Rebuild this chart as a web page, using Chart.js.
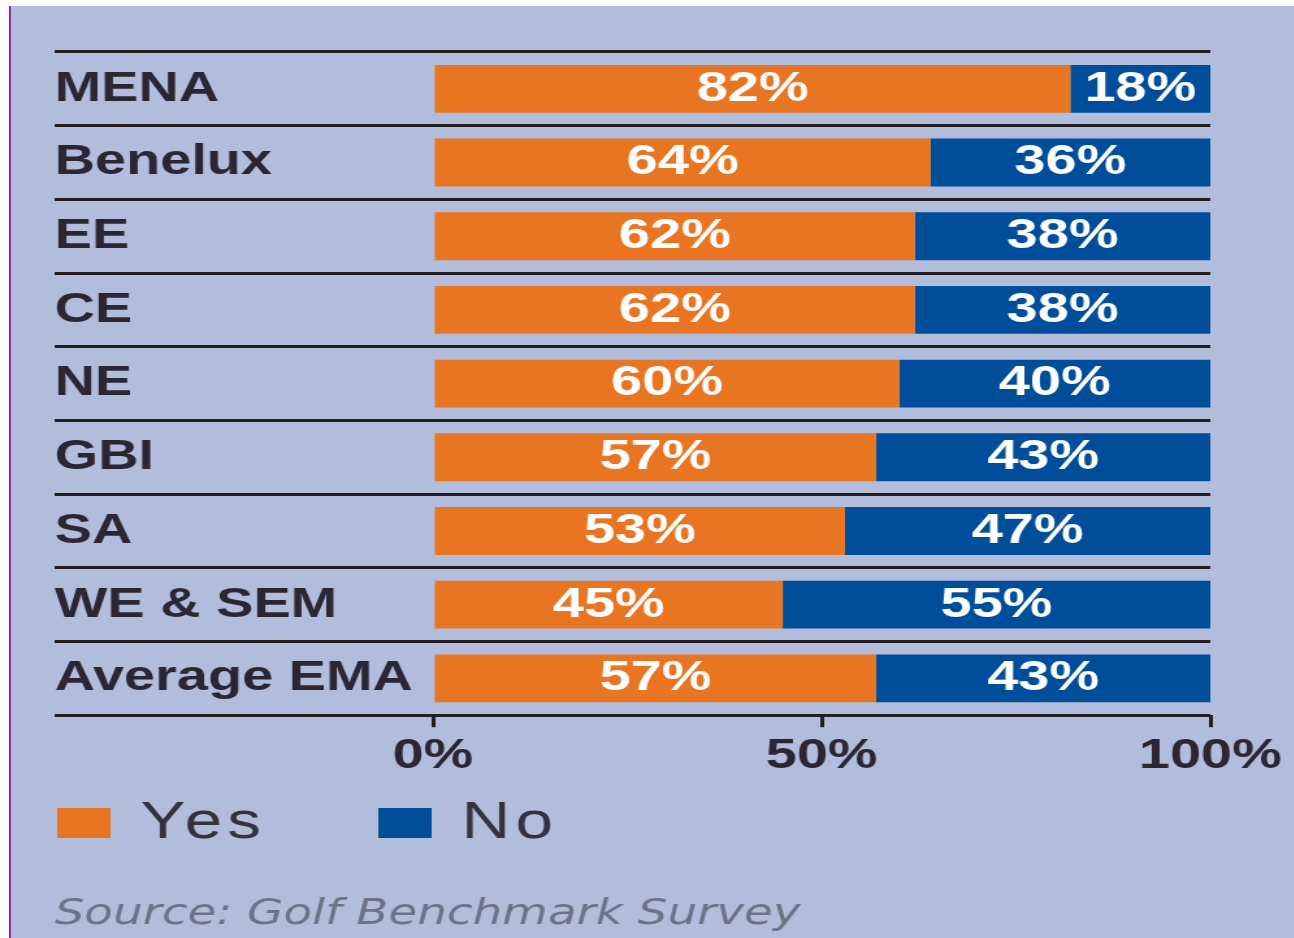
<!DOCTYPE html>
<html>
<head>
<meta charset="utf-8">
<title>Golf Benchmark Survey</title>
<script src="https://cdn.jsdelivr.net/npm/chart.js@4/dist/chart.umd.min.js"></script>
<style>
    html, body { margin: 0; padding: 0; background: #ffffff; }
    body { width: 1294px; height: 938px; position: relative; overflow: hidden; }
    .panel {
        position: absolute; left: 9px; top: 6px; right: 0; bottom: 0;
        background: #b2bcdb;
        border-left: 2px solid #8e2d9a;
    }
    /* the source artwork is stretched sideways, so the chart is drawn narrow and widened */
    #survey-chart {
        position: absolute; left: 0; top: 0;
        transform: scaleX(1.3);
        transform-origin: 0 0;
    }
</style>
</head>
<body>
<div class="panel"></div>
<canvas id="survey-chart" width="995" height="938"></canvas>

<script>
// ---- data ----
const regions = ['MENA', 'Benelux', 'EE', 'CE', 'NE', 'GBI', 'SA', 'WE & SEM', 'Average EMA'];
const yesShare = [82, 64, 62, 62, 60, 57, 53, 45, 57];
const noShare = [18, 36, 38, 38, 40, 43, 47, 55, 43];
const axisTicks = [0, 50, 100];

const colors = {
    yes: '#e87521',
    no: '#004e99',
    rule: '#231f20',
    label: '#2b2633',
    legendText: '#34323f',
    source: '#6d7286'
};
const SANS = '"Liberation Sans", Arial, Helvetica, sans-serif';

// percentage text centred inside every bar segment
const segmentLabels = {
    id: 'segmentLabels',
    afterDatasetsDraw(chart) {
        const ctx = chart.ctx;
        ctx.save();
        ctx.font = 'bold 43px ' + SANS;
        ctx.fillStyle = '#ffffff';
        ctx.textAlign = 'center';
        ctx.textBaseline = 'middle';
        chart.data.datasets.forEach((ds, di) => {
            const meta = chart.getDatasetMeta(di);
            meta.data.forEach((bar, i) => {
                const cx = (bar.x + bar.base) / 2;
                ctx.fillText(ds.data[i] + '%', cx, bar.y);
            });
        });
        ctx.restore();
    }
};

// legend row under the axis: swatch + name, spaced like the original
const swatchLegend = {
    id: 'swatchLegend',
    afterDraw(chart, args, opts) {
        const ctx = chart.ctx;
        ctx.save();
        ctx.font = '52px ' + SANS;
        ctx.textBaseline = 'middle';
        ctx.textAlign = 'left';
        if ('letterSpacing' in ctx) ctx.letterSpacing = '4px';
        chart.data.datasets.forEach((ds, i) => {
            const bx = opts.x + i * opts.spacing;
            ctx.fillStyle = ds.backgroundColor;
            ctx.fillRect(bx, opts.y - opts.boxHeight / 2, opts.boxWidth, opts.boxHeight);
            ctx.fillStyle = colors.legendText;
            ctx.fillText(ds.label, bx + opts.textGap, opts.y + 1);
        });
        ctx.restore();
    }
};

const canvas = document.getElementById('survey-chart');

new Chart(canvas, {
    type: 'bar',
    data: {
        labels: regions,
        datasets: [
            { label: 'Yes', data: yesShare, backgroundColor: colors.yes, borderWidth: 0 },
            { label: 'No', data: noShare, backgroundColor: colors.no, borderWidth: 0 }
        ]
    },
    options: {
        indexAxis: 'y',
        responsive: false,
        animation: false,
        barPercentage: 0.65,
        categoryPercentage: 1,
        layout: {
            padding: { top: 52, left: 42, right: 64, bottom: 0 }
        },
        plugins: {
            legend: { display: false },
            tooltip: { enabled: false },
            title: {
                display: true,
                position: 'bottom',
                align: 'start',
                text: 'Source: Golf Benchmark Survey',
                color: colors.source,
                font: { family: '"DejaVu Sans", sans-serif', size: 36, style: 'italic', weight: 'normal', lineHeight: 1.2 },
                padding: { top: 108, bottom: 2 }
            },
            swatchLegend: { x: 44, y: 823, spacing: 247, boxWidth: 41, boxHeight: 30, textGap: 64 }
        },
        scales: {
            x: {
                stacked: true,
                min: 0,
                max: 100,
                afterBuildTicks: (scale) => {
                    scale.ticks = axisTicks.map(v => ({ value: v }));
                },
                grid: {
                    drawOnChartArea: false,
                    drawTicks: true,
                    tickLength: 12,
                    color: colors.rule,
                    lineWidth: 3
                },
                border: { display: false },
                ticks: {
                    padding: 3,
                    maxRotation: 0,
                    color: colors.label,
                    font: { family: SANS, size: 43, weight: 'bold' },
                    callback: (value) => value + '%'
                }
            },
            y: {
                stacked: true,
                grid: {
                    offset: true,
                    drawTicks: true,
                    tickLength: 291,   // rules run out under the row names
                    color: colors.rule,
                    lineWidth: 3
                },
                border: { display: false },
                ticks: {
                    crossAlign: 'far',
                    padding: 0,
                    color: colors.label,
                    font: { family: SANS, size: 43, weight: 'bold' }
                },
                afterFit: (scale) => { scale.width = 291; }
            }
        }
    },
    plugins: [segmentLabels, swatchLegend]
});
</script>
</body>
</html>
